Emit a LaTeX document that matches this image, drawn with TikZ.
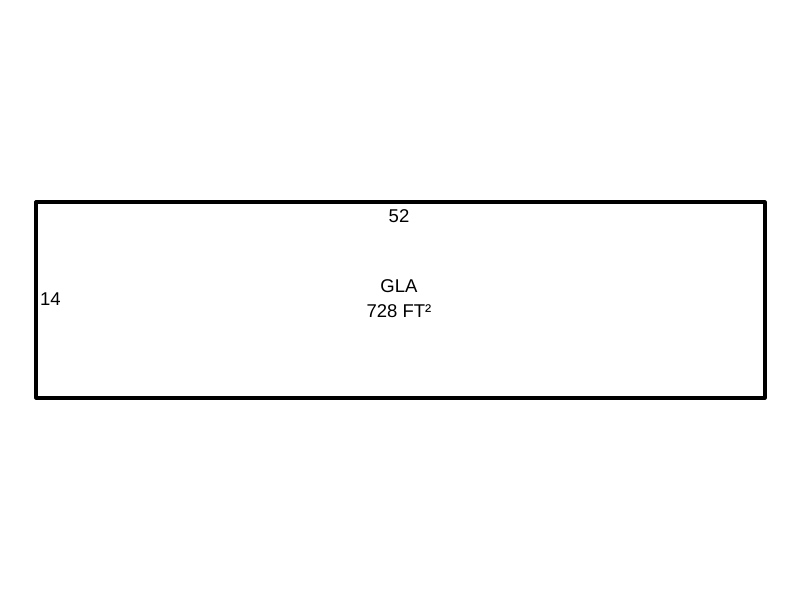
\documentclass[tikz,border=0pt]{standalone}
\usepackage{fontspec}
\setmainfont{Liberation Sans}
\begin{document}
\begin{tikzpicture}[x=1pt,y=-1pt,
  lbl/.style={font=\fontsize{18.5}{20}\selectfont, inner sep=0pt},
  wall/.style={line width=3.2pt, line join=round}]
\useasboundingbox[fill=white] (0,0) rectangle (800,600);
\draw[wall] (36,202) rectangle (765,398);
\node[lbl] (top) at (399,216) {52};
\node[lbl, anchor=west] (left) at (40,299) {14};
\node[lbl] (name) at (399,286) {GLA};
\node[lbl] (area) at (399,311) {728 FT²};
\end{tikzpicture}
\end{document}
